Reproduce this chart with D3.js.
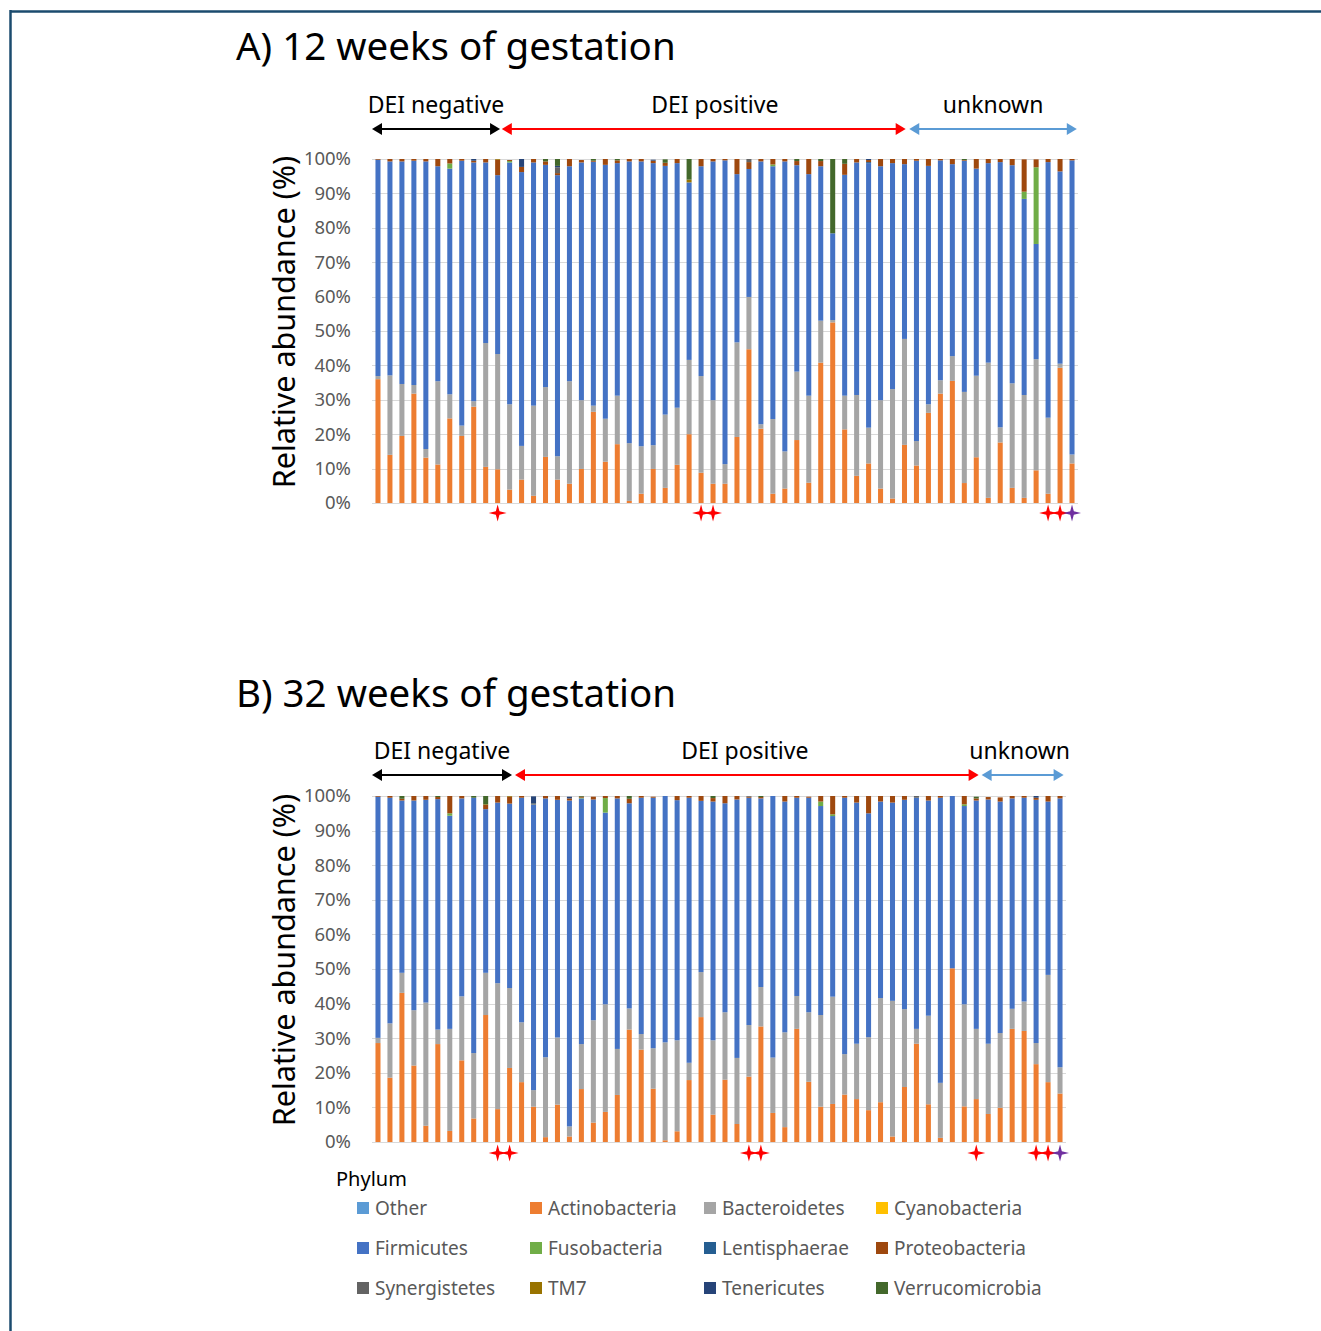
<!DOCTYPE html>
<html>
<head>
<meta charset="utf-8">
<script src="https://cdn.jsdelivr.net/npm/d3@7"></script>
<style>
  body { margin: 0; background: #fff; }
  svg { display: block; font-family: "Noto Sans", "Open Sans", sans-serif; }
</style>
</head>
<body>
<svg id="chart" width="1321" height="1331"></svg>
<script>
// phylum order = stacking order (bottom to top) and legend order
var phyla = ["Other","Actinobacteria","Bacteroidetes","Cyanobacteria","Firmicutes","Fusobacteria",
             "Lentisphaerae","Proteobacteria","Synergistetes","TM7","Tenericutes","Verrucomicrobia"];
var colors = ["#5B9BD5","#ED7D31","#A5A5A5","#FFC000","#4472C4","#70AD47",
              "#255E91","#9E480E","#636363","#997300","#264478","#43682B"];
var yTicks = [0,10,20,30,40,50,60,70,80,90,100];

// ---- A) 12 weeks, 59 samples ----
var otherA  = [0,0,0,0,0,0,0,0,0,0,0,0,0,0,0,0,0,0,0,0,0,0,0,0,0,0,0,0,0,0,0,0,0,0,0,0,0,0,0,0,0,0,0,0,0,0,0,0,0,0,0,0,0,0,0,0,0,0,0];
var actinoA = [36,14,19.5,31.8,13.2,11.2,24.6,19.5,28,10.5,9.8,3.9,6.8,2.1,13.4,6.8,5.6,9.9,26.5,12,
               17.1,0.6,2.7,9.9,4.4,11.1,20,8.8,5.6,5.6,19.2,44.7,21.6,2.7,4.2,18.3,5.9,40.8,52.5,21.4,
               7.9,11.5,4.2,1.3,16.9,10.9,26.2,31.8,35.5,5.8,13.3,1.5,17.6,4.4,1.5,9.5,2.7,39.3,11.5];
var bacterA = [0.9,23.1,15.1,2.5,2.5,24.2,7,3,1.6,36,33.5,24.8,9.8,26.2,20.3,6.8,29.8,20,1.8,12.5,
               14.1,16.8,13.8,6.9,21.3,16.6,21.6,28.1,24.3,5.7,27.5,15.2,1.3,21.7,10.8,19.9,25.3,12.2,0.7,9.8,
               23.5,10.4,25.7,31.8,30.8,7.1,2.5,3.9,7.2,26.5,23.7,39.3,4.4,30.4,29.9,32.3,22.1,1.2,2.6];
var cyanoA  = [0,0,0,0,0,0,0,0,0,0,0,0,0,0,0,0,0,0,0,0,0,0,0,0,0,0,0,0,0,0,0,0,0,0,0,0,0,0,0,0,0,0,0,0,0,0,0,0,0,0,0,0,0,0,0,0,0,0,0];
var firmA   = [62.9,62.2,64.7,65.2,83.6,62.5,65.6,77,69.4,52.5,52,70.3,79.6,70.7,64.6,81.7,62.5,69.1,70.9,73.8,
               67.6,81.9,82.8,82,72.3,71.1,51.6,61,69.4,88.3,48.9,37.2,76.4,73.5,84.3,60,64.4,44.9,25.2,64.2,
               67.6,76.9,68,65.7,50.8,81.5,69.3,63.9,55.8,67.2,60.2,58,77.1,63.4,57,33.5,74.3,55.9,85.5];
var fusoA   = [0,0,0,0,0,0,1.5,0,0,0,0,0.4,0,0,0,0,0,0,0,0,0,0,0,0,0,0,0,0,0,0,0,0,0,0.5,0,0,0,0,0,0,
               0,0,0,0,0,0,0,0,0,0,0,0,0,0,2.1,22.3,0,0,0];
var lentiA  = [0,0,0,0,0,0,0,0,0,0,0,0,0,0,0,0,0,0,0,0,0,0,0,0,0,0,0,0,0,0,0,0,0,0,0,0,0,0,0,0,
               0,0.3,0,0,0,0,0,0,0,0,0,0,0,0,0,0,0,0,0];
var proteoA = [0.2,0.7,0.7,0.5,0.7,2.1,1.3,0.5,0.5,1,4.5,0.3,1.5,1,1,0.6,2.1,0.7,0.3,1.7,
               0.8,0.7,0.7,0.7,0.9,1.2,0,2.1,0.7,0.4,4.4,2,0.7,1.6,0.7,1.2,4.4,1.5,0,3.2,
               1,0.6,2.1,1.2,1.5,0.5,2,0.4,1.5,0.2,2.8,1.2,0.9,1.8,9.4,2.3,0.9,3.6,0.4];
var synerA  = [0,0,0,0,0,0,0,0,0,0,0,0,0,0,0,1.7,0,0,0,0,0,0,0,0,0,0,0,0,0,0,0,1,0,0,0,0,0,0,0,0,
               0,0,0,0,0,0,0,0,0,0,0,0,0,0,0,0,0,0,0];
var tm7A    = [0,0,0,0,0,0,0,0,0,0,0.2,0,0,0,0,0,0,0,0,0,0,0,0,0,0,0,0.8,0,0,0,0,0,0,0,0,0,0,0,0,0,
               0,0,0,0,0,0,0,0,0,0,0,0,0,0,0,0,0,0,0];
var teneA   = [0,0,0,0,0,0,0,0,0.5,0,0,0,2.3,0,0,0.4,0,0,0,0,0,0,0,0.3,0,0,0,0,0,0,0,0,0,0,0,0,0,0,0,0,
               0,0.3,0,0,0,0,0,0,0,0,0,0,0,0,0,0,0,0,0];
var verruA  = [0,0,0,0,0,0,0,0,0,0,0,0,0,0,0.7,2,0,0,0.5,0,0.4,0,0,0,1,0,6,0,0,0,0,0,0,0,0,0.6,0,0.6,21.6,1.4,
               0,0,0,0,0,0,0,0,0,0.3,0,0,0,0,0,0,0,0,0];
var redStarsA = [11,28,29,57,58];
var purpleStarsA = [59];
var groupsA = [
  {label:"DEI negative", start:0, end:10.7, color:"#000000", dx:0},
  {label:"DEI positive", start:10.85, end:44.6, color:"#FF0000", dx:11},
  {label:"unknown", start:44.9, end:58.9, color:"#5B9BD5", dx:0}
];

// ---- B) 32 weeks, 58 samples ----
var otherB  = [0,0,0,0,0,0,0,0,0,0,0,0,0,0,0,0,0,0,0,0,0,0,0,0,0,0,0,0,0,0,0,0,0,0,0,0,0,0,0,0,0,0,0,0,0,0,0,0,0,0,0,0,0,0,0,0,0,0];
var actinoB = [28.6,18.6,43.1,22.1,4.7,28.3,3.2,23.6,6.8,36.7,9.5,21.4,17.3,10.2,1.4,10.8,1.6,15.3,5.6,8.7,
               13.6,32.5,26.7,15.4,0.5,3.1,17.9,36.1,7.9,18,5.2,18.9,33.4,8.4,4.3,32.7,17.4,10.2,11,13.7,
               12.4,9.2,11.5,1.6,15.9,28.4,10.9,1.2,50.2,10.3,12.4,8.1,9.9,32.7,32.1,22.5,17.3,14];
var bacterB = [1.5,15.7,5.8,16,35.6,4.2,29.5,18.5,18.9,12.2,36.4,23.1,17.3,4.8,23.1,19.4,2.9,13,29.6,31.1,
               13.3,6.1,4.5,11.7,28.3,26.3,5,13,21.5,19.5,19.1,14.9,11.4,16,27.4,9.5,20.1,26.5,31,11.7,
               16,21.1,30.1,39.2,22.5,4.3,25.6,15.9,0,29.5,20.3,20.3,21.6,5.8,8.5,6.1,31,7.6];
var cyanoB  = [0,0,0,0,0,0,0,0,0,0,0,0,0,0,0,0,0,0,0,0,0,0,0,0,0,0,0,0,0,0,0,0,0,0,0,0,0,0,0,0,0,0,0,0,0,0,0,0,0,0,0,0,0,0,0,0,0,0];
var firmB   = [69.7,65.2,49.8,60.6,58.6,66.6,61.6,57.2,73.8,47.3,52.2,53.3,64.9,82.6,74.8,68.7,94.2,71,63.8,55.4,
               72.4,59.3,68.3,72.4,71.2,69.4,76.6,49.5,69,60.4,74.7,65.7,54.5,75.6,66.7,57.3,62,60.4,52.2,74.1,
               69.7,64.7,56.8,57.3,60.5,66.8,62.2,82.4,49.8,57.3,66,70.6,66.9,60.8,58.9,70.3,50.1,77.7];
var fusoB   = [0,0,0,0,0,0,0.7,0,0,0,0,0,0,0,0,0,0,0.2,0,4.2,0,0,0,0,0,0,0,0,0,0,0,0,0,0,0,0,0,1.3,0.5,0,
               0,0,0,0,0,0,0,0,0,0.5,0,0,0,0,0,0,0,0];
var lentiB  = [0,0,0,0,0,0,0,0,0,0,0,0,0,0,0,0,0,0,0,0,0,0,0,0,0,0,0,0,0,0,0,0,0,0,0,0,0,0,0,0,0,0,0,0,0,0,0,0,0,0,0,0,0,0,0,0,0,0];
var proteoB = [0.2,0.5,0.5,1.3,1.1,0.6,5,0.7,0,1.2,1.9,2,0.5,0,0.7,1.1,0.6,0.3,0.8,0.6,
               0.7,1.3,0.5,0.3,0,1.2,0.5,1.4,1,2.1,1,0.3,0.4,0,1.6,0.5,0.3,1.6,5.3,0.5,
               1.9,5,1.6,1.9,1.1,0,1.3,0.5,0,2.4,0.6,0.7,1.2,0.7,0.5,0.6,1.6,0.7];
var synerB  = [0,0,0,0,0,0,0,0,0,0,0,0,0,0,0,0,0,0,0,0,0,0,0,0,0,0,0,0,0,0,0,0.2,0,0,0,0,0,0,0,0,
               0,0,0,0,0,0.5,0,0,0,0,0,0,0,0,0,0,0,0];
var tm7B    = [0,0,0,0,0,0,0,0,0,0.2,0,0.2,0,0.2,0,0,0,0,0,0,0,0,0,0,0,0,0,0,0,0,0,0,0,0,0,0,0,0,0,0,
               0,0,0,0,0,0,0,0,0,0,0,0,0,0,0,0,0,0];
var teneB   = [0,0,0,0,0,0,0,0,0,0,0,0,0,2.1,0,0,0.5,0,0,0,0,0,0,0,0,0,0,0,0,0,0,0,0,0,0,0,0,0,0,0,
               0,0,0,0,0,0,0,0,0,0,0,0,0,0,0,0.5,0,0];
var verruB  = [0,0,0.8,0,0,0.3,0,0,0.5,2.4,0,0,0,0,0,0,0,0.5,0,0,0,0.8,0,0,0,0,0,0,0.6,0,0,0,0.3,0,0,0,0,0,0,0,
               0,0,0,0,0,0,0,0,0,0,0.5,0,0,0,0,0,0,0];
var redStarsB = [11,12,32,33,51,56,57];
var purpleStarsB = [58];
var groupsB = [
  {label:"DEI negative", start:0, end:11.7, color:"#000000", dx:0},
  {label:"DEI positive", start:11.95, end:50.7, color:"#FF0000", dx:-2},
  {label:"unknown", start:50.95, end:57.8, color:"#5B9BD5", dx:-3}
];

var seriesA = [otherA,actinoA,bacterA,cyanoA,firmA,fusoA,lentiA,proteoA,synerA,tm7A,teneA,verruA];
var seriesB = [otherB,actinoB,bacterB,cyanoB,firmB,fusoB,lentiB,proteoB,synerB,tm7B,teneB,verruB];

var svg = d3.select("#chart");

// frame lines (top and left)
svg.append("line").attr("x1", 10).attr("x2", 1321).attr("y1", 11.5).attr("y2", 11.5)
  .attr("stroke", "#1B4B6E").attr("stroke-width", 2.5);
svg.append("line").attr("x1", 10.5).attr("x2", 10.5).attr("y1", 10).attr("y2", 1331)
  .attr("stroke", "#1B4B6E").attr("stroke-width", 2.5);

function star4(cx, cy, w, h) {
  var r = 1.8;
  var pts = [[cx, cy - h/2],[cx + r, cy - r],[cx + w/2, cy],[cx + r, cy + r],
             [cx, cy + h/2],[cx - r, cy + r],[cx - w/2, cy],[cx - r, cy - r]];
  return d3.line()(pts) + "Z";
}

function drawPanel(o) {
  var n = o.series[1].length;
  var rows = d3.range(n).map(function(i) {
    var r = {id: i + 1};
    phyla.forEach(function(p, k) { r[p] = o.series[k][i]; });
    return r;
  });

  var x = d3.scaleBand().domain(rows.map(d => d.id)).range([o.x0, o.x1]).paddingInner(0.58).paddingOuter(0.29);
  var y = d3.scaleLinear().domain([0, 100]).range([o.y1, o.y0]);
  var u = d3.scaleLinear().domain([0, n]).range([o.x0, o.x1]);

  var g = svg.append("g");

  // title
  g.append("text").attr("x", 236).attr("y", o.titleY)
    .attr("font-size", 38.5).attr("fill", "#000").text(o.title);

  // gridlines
  g.append("g").selectAll("line").data(yTicks).enter().append("line")
    .attr("x1", o.x0).attr("x2", o.x1)
    .attr("y1", d => Math.round(y(d)) + 0.5).attr("y2", d => Math.round(y(d)) + 0.5)
    .attr("stroke", "#D9D9D9").attr("stroke-width", 1.2);

  // y axis labels
  var ax = g.append("g").attr("transform", "translate(" + o.x0 + ",0)")
    .call(d3.axisLeft(y).tickValues(yTicks).tickFormat(d => d + "%").tickSize(0).tickPadding(21));
  ax.select(".domain").remove();
  ax.selectAll("text").attr("font-size", 18.5).attr("fill", "#595959")
    .attr("font-family", "Noto Sans, Open Sans, sans-serif");

  // y title
  g.append("text")
    .attr("transform", "translate(" + 295 + "," + ((o.y0 + o.y1) / 2 - 9) + ") rotate(-90)")
    .attr("text-anchor", "middle").attr("font-size", 30.5).attr("fill", "#000")
    .text("Relative abundance (%)");

  // stacked bars
  var stack = d3.stack().keys(phyla)(rows);
  g.append("g").selectAll("g").data(stack).enter().append("g")
    .attr("fill", (d, i) => colors[i])
    .selectAll("rect").data(d => d).enter().append("rect")
    .attr("x", d => x(d.data.id))
    .attr("width", x.bandwidth())
    .attr("y", d => y(Math.min(100, d[1])))
    .attr("height", d => Math.max(0, y(d[0]) - y(Math.min(100, d[1]))));

  // group arrows
  var ag = g.append("g");
  o.groups.forEach(function(gr) {
    var xa = u(gr.start), xb = u(gr.end), yy = o.arrowY;
    ag.append("line").attr("x1", xa + 6).attr("x2", xb - 6).attr("y1", yy).attr("y2", yy)
      .attr("stroke", gr.color).attr("stroke-width", 2);
    ag.append("path").attr("d", d3.line()([[xa, yy], [xa + 10, yy - 6], [xa + 10, yy + 6]]) + "Z").attr("fill", gr.color);
    ag.append("path").attr("d", d3.line()([[xb, yy], [xb - 10, yy - 6], [xb - 10, yy + 6]]) + "Z").attr("fill", gr.color);
    ag.append("text").attr("x", (xa + xb) / 2 + gr.dx).attr("y", yy - 16)
      .attr("text-anchor", "middle").attr("font-size", 23).attr("fill", "#000").text(gr.label);
  });

  // stars
  var sg = g.append("g");
  o.red.forEach(function(b) {
    sg.append("path").attr("d", star4(x(b) + x.bandwidth() / 2, o.starY, 18, 17)).attr("fill", "#FF0000");
  });
  o.purple.forEach(function(b) {
    sg.append("path").attr("d", star4(x(b) + x.bandwidth() / 2, o.starY, 18, 17)).attr("fill", "#7030A0");
  });
}

drawPanel({series: seriesA, title: "A) 12 weeks of gestation", titleY: 60,
  x0: 372, x1: 1078, y0: 159, y1: 503, arrowY: 129, starY: 513,
  groups: groupsA, red: redStarsA, purple: purpleStarsA});

drawPanel({series: seriesB, title: "B) 32 weeks of gestation", titleY: 707,
  x0: 372, x1: 1066, y0: 796, y1: 1142, arrowY: 775, starY: 1153,
  groups: groupsB, red: redStarsB, purple: purpleStarsB});

// legend
var lg = svg.append("g");
lg.append("text").attr("x", 336).attr("y", 1186).attr("font-size", 20).attr("fill", "#000").text("Phylum");
var colX = [357, 530, 704, 876];
var rowY = [1208, 1248, 1288];
phyla.forEach(function(p, i) {
  var cx = colX[i % 4], cy = rowY[Math.floor(i / 4)];
  lg.append("rect").attr("x", cx).attr("y", cy - 6).attr("width", 12).attr("height", 12).attr("fill", colors[i]);
  lg.append("text").attr("x", cx + 18).attr("y", cy + 7).attr("font-size", 19).attr("fill", "#595959").text(p);
});
</script>
</body>
</html>
